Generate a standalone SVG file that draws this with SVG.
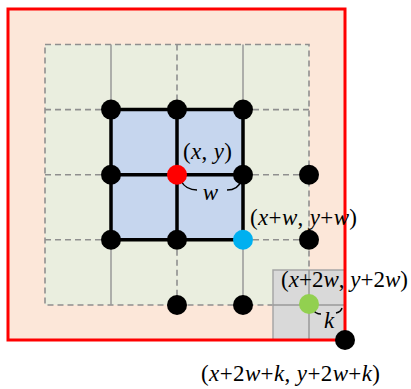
<svg xmlns="http://www.w3.org/2000/svg" width="411" height="389" viewBox="0 0 411 389">
<style>
.dash{stroke:#8f8f8f;stroke-width:1.6;stroke-dasharray:6 4;fill:none}
.thin{stroke:#999;stroke-width:1.5;fill:none}
.thick{stroke:#000;stroke-width:3.5;fill:none;stroke-linecap:square}
.arc{stroke:#000;stroke-width:1.5;fill:none}
.dot{fill:#000}
.lbl{font-family:"Liberation Serif","Times New Roman",serif;font-size:23px;fill:#000}
.it{font-style:italic}
</style>
<rect x="8" y="9" width="337" height="331" fill="#fce7d9"/>
<rect x="45" y="44.5" width="264" height="260.5" fill="#eaeedf"/>
<rect x="111" y="109.6" width="132" height="130.2" fill="#c6d6ee"/>
<g id="connectors">
<rect x="45" y="44.5" width="264" height="260.5" class="dash"/>
<path class="dash" d="M45 109.6H111M243 109.6H309M45 174.7H111M243 174.7H309M45 239.8H111M243 239.8H309M177 44.5V109.6M177 239.8V305"/>
<path class="thin" d="M111 44.5V109.6M243 44.5V109.6M111 239.8V305M243 239.8V305"/>
<g id="gray-box">
<rect x="273" y="270" width="72" height="70" fill="#d9d9d9" stroke="#a6a6a6" stroke-width="1.5"/>
<path class="thin" d="M309 270V340M273 305H345"/>
</g>
<path class="thick" d="M111 109.6H243V239.8H111ZM177 109.6V239.8M111 174.7H243"/>
<path class="arc" d="M181 181Q186 190 197 190M227 190Q238 190 241 181"/>
<path class="arc" d="M313 309Q315 314 321 314M336 313Q341 312 342 308"/>
</g>
<rect x="8" y="9" width="337" height="331" fill="none" stroke="#ff0000" stroke-width="3"/>
<g id="n-r1-1"><circle class="dot" cx="111" cy="109.6" r="10"/></g>
<g id="n-r1-2"><circle class="dot" cx="177" cy="109.6" r="10"/></g>
<g id="n-r1-3"><circle class="dot" cx="243" cy="109.6" r="10"/></g>
<g id="n-r2-1"><circle class="dot" cx="111" cy="174.7" r="10"/></g>
<g id="n-xy"><circle cx="177" cy="174.7" r="10" fill="#ff0000"/><text class="lbl" x="183" y="159" textLength="49">(<tspan class="it">x</tspan>, <tspan class="it">y</tspan>)</text></g>
<g id="n-r2-3"><circle class="dot" cx="243" cy="174.7" r="10"/></g>
<g id="n-r2-4"><circle class="dot" cx="309" cy="174.7" r="10"/></g>
<g id="n-r3-1"><circle class="dot" cx="111" cy="239.8" r="10"/></g>
<g id="n-r3-2"><circle class="dot" cx="177" cy="239.8" r="10"/></g>
<g id="n-xw"><circle cx="243" cy="239.8" r="10" fill="#00b0f0"/><text class="lbl" x="250" y="225" textLength="107">(<tspan class="it">x</tspan>+<tspan class="it">w</tspan>, <tspan class="it">y</tspan>+<tspan class="it">w</tspan>)</text></g>
<g id="n-r3-4"><circle class="dot" cx="309" cy="239.8" r="10"/></g>
<g id="n-r4-2"><circle class="dot" cx="177" cy="305" r="10"/></g>
<g id="n-r4-3"><circle class="dot" cx="243" cy="305" r="10"/></g>
<g id="n-x2w"><circle cx="309" cy="304" r="10" fill="#92d050"/><text class="lbl" x="281" y="287" textLength="127">(<tspan class="it">x</tspan>+2<tspan class="it">w</tspan>, <tspan class="it">y</tspan>+2<tspan class="it">w</tspan>)</text></g>
<g id="n-corner"><circle class="dot" cx="345" cy="340" r="10"/><text class="lbl" x="201" y="381" textLength="179">(<tspan class="it">x</tspan>+2<tspan class="it">w</tspan>+<tspan class="it">k</tspan>, <tspan class="it">y</tspan>+2<tspan class="it">w</tspan>+<tspan class="it">k</tspan>)</text></g>
<g id="lbl-w"><text class="lbl it" x="210.5" y="200" text-anchor="middle">w</text></g>
<g id="lbl-k"><text class="lbl it" x="329" y="328" text-anchor="middle">k</text></g>
</svg>
